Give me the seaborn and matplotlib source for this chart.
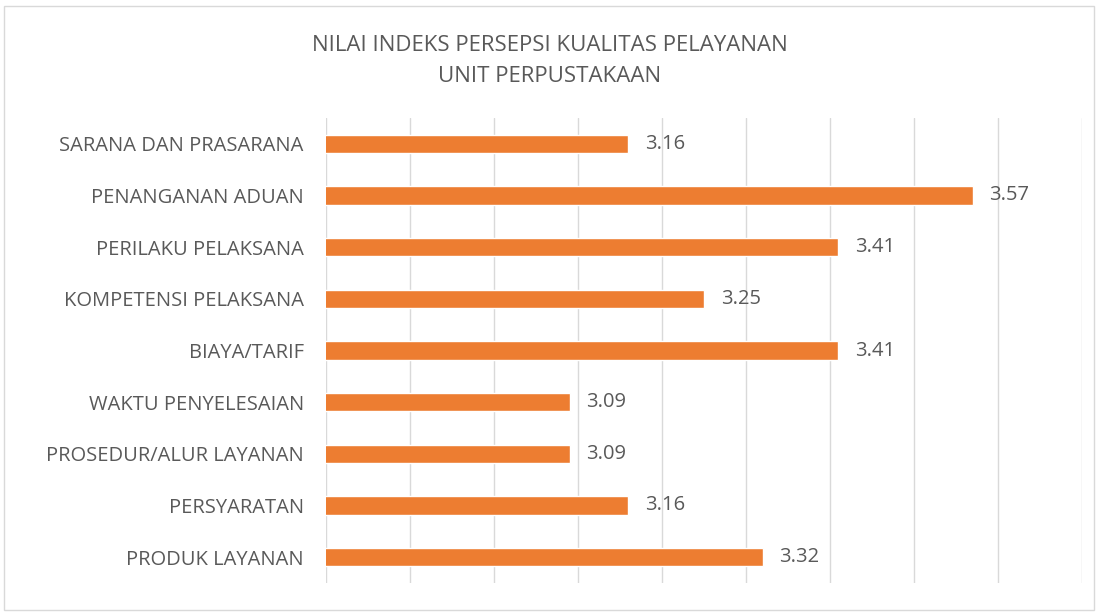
import matplotlib
matplotlib.use("Agg")
import matplotlib.pyplot as plt
import pandas as pd
import seaborn as sns
from matplotlib.patches import Rectangle

# ---------------------------------- datos ---------------------------------- #
UNSUR = [
    "SARANA DAN PRASARANA",
    "PENANGANAN ADUAN",
    "PERILAKU PELAKSANA",
    "KOMPETENSI PELAKSANA",
    "BIAYA/TARIF",
    "WAKTU PENYELESAIAN",
    "PROSEDUR/ALUR LAYANAN",
    "PERSYARATAN",
    "PRODUK LAYANAN",
]
NILAI = [3.16, 3.57, 3.41, 3.25, 3.41, 3.09, 3.09, 3.16, 3.32]
JUDUL = "NILAI INDEKS PERSEPSI KUALITAS PELAYANAN\nUNIT PERPUSTAKAAN"

ORANYE = "#ED7D31"
ABU = "#595959"

df = pd.DataFrame({"unsur": UNSUR, "nilai": NILAI})

# -------------------------------- grafico ---------------------------------- #
sns.set_theme(style="white")
plt.rcParams["font.family"] = ["Open Sans", "DejaVu Sans"]

fig = plt.figure(figsize=(10.99, 6.16), dpi=100)
ax = fig.add_axes([326 / 1099, 1 - 583 / 616, (1082 - 326) / 1099, (583 - 118) / 616])

sns.barplot(data=df, x="nilai", y="unsur", color=ORANYE, saturation=1,
            width=0.35, orient="h", ax=ax)

ax.set_xlim(2.8, 3.7)
ax.set_ylim(len(UNSUR) - 0.5, -0.5)
ax.set_xticks([2.8 + 0.1 * i for i in range(10)])
ax.xaxis.grid(True, color="#D9D9D9", linewidth=1)
ax.set_axisbelow(True)
ax.tick_params(axis="x", length=0, labelbottom=False)
ax.tick_params(axis="y", length=0, pad=16, labelsize=14.5, labelcolor=ABU)
for s in ax.spines.values():
    s.set_visible(False)
ax.set_xlabel("")
ax.set_ylabel("")

# etiquetas de valor
for i, v in enumerate(NILAI):
    ax.annotate(f"{v:.2f}", (v, i), xytext=(12, 0), textcoords="offset points",
                va="center", ha="left", fontsize=14.5, color=ABU)

fig.text(0.5, 1 - 61 / 616, JUDUL, ha="center", va="center", fontsize=16,
         color=ABU, linespacing=1.65)

# marco del grafico
fig.patches.append(Rectangle((4 / 1099, 6 / 616), 1 - 9 / 1099, 1 - 12 / 616,
                             transform=fig.transFigure, fill=False,
                             edgecolor="#D9D9D9", linewidth=1))

fig.savefig("out.png", dpi=100, facecolor="white")
